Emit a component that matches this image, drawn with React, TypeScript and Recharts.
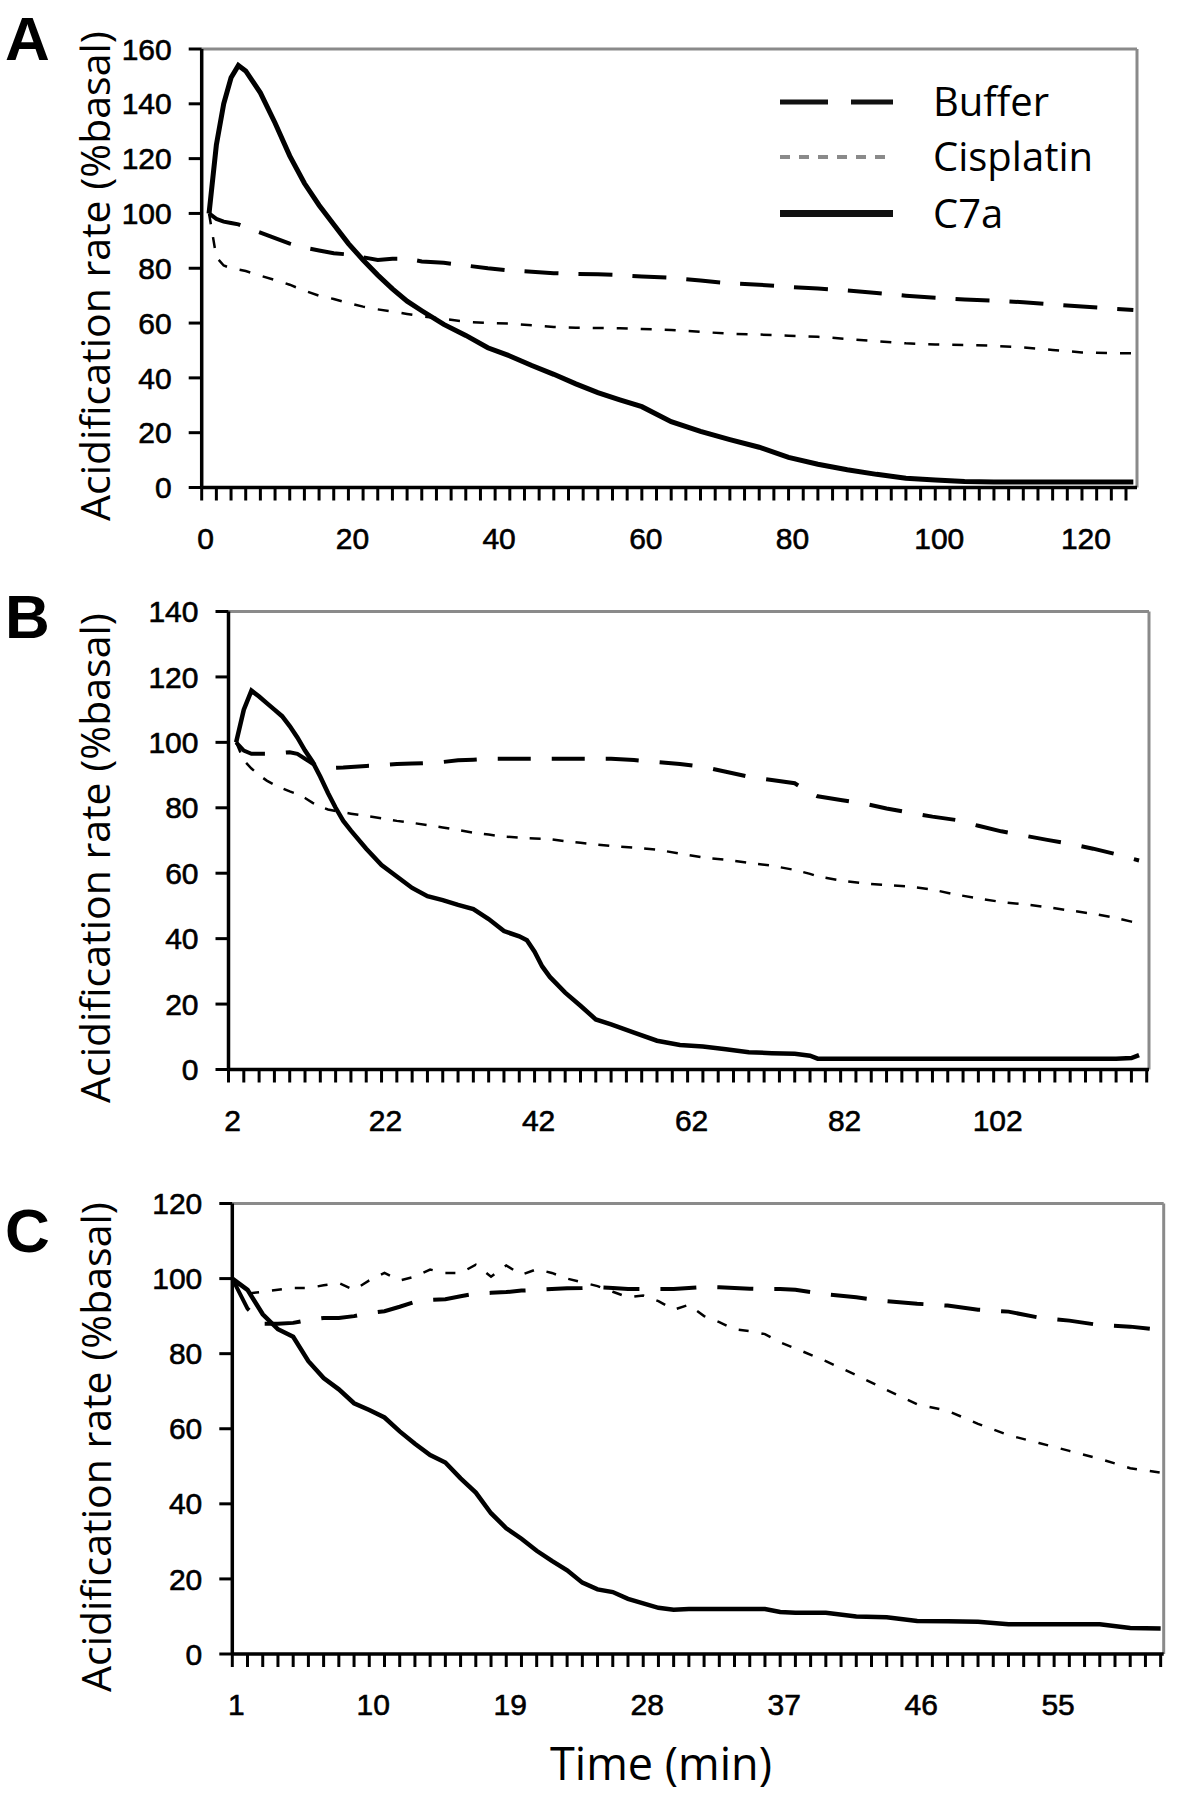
import { Label, Legend, Line, LineChart, ReferenceLine, XAxis, YAxis } from "recharts";

// ---- panel A (0-127 min) ----
const timeA = [1, 2, 3, 4, 5, 6, 8, 10, 12, 14, 16, 18, 20, 22, 24, 26, 28, 30, 33, 36, 39, 42, 45, 48, 51, 54, 57, 60, 64, 68, 72, 76, 80, 84, 88, 92, 96, 100, 104, 108, 112, 116, 120, 124, 127];
const bufferA = [100, 98, 97, 96.5, 96, 95, 93, 91, 89, 87.5, 86.5, 85.5, 85, 84, 83, 83.5, 83.5, 82.5, 82, 81, 80, 79.2, 78.7, 78.2, 77.9, 77.8, 77.5, 77, 76.5, 75.5, 74.5, 74, 73.2, 72.6, 71.9, 71, 70, 69.2, 68.6, 68.2, 67.6, 66.8, 66, 65.3, 64.8];
const cisplatinA = [100, 84, 81, 80, 79.5, 79, 77.3, 75.7, 74, 71.8, 70, 68.8, 67.3, 66, 65, 64.2, 63.3, 62.5, 61.5, 60.5, 60, 59.8, 59.2, 58.6, 58.3, 58.2, 58.1, 57.8, 57.5, 56.8, 56.1, 55.8, 55.4, 55, 54.2, 53.4, 52.6, 52.2, 52, 51.7, 51.1, 50.2, 49.3, 49, 49];
const c7aA = [100, 125, 140, 149.5, 154, 152, 144, 133, 121, 111, 103, 96, 89, 83, 77.5, 72.5, 68, 64.5, 59.5, 55.5, 51, 48, 44.5, 41.3, 37.8, 34.6, 32, 29.5, 24, 20.5, 17.5, 14.7, 11, 8.5, 6.5, 4.8, 3.4, 2.7, 2.2, 2, 2, 2, 2, 2, 2];

// ---- panel B (2-122 min) ----
const timeB = [3, 4, 5, 6, 7, 8, 9, 10, 11, 12, 13, 14, 15, 16, 17, 18, 20, 22, 24, 26, 28, 30, 32, 34, 36, 38, 40, 41, 42, 43, 44, 46, 48, 50, 52, 55, 58, 61, 64, 67, 70, 73, 76, 78, 79, 82, 85, 88, 91, 94, 97, 100, 103, 106, 109, 112, 115, 118, 120, 121];
const bufferB = [100, 97.5, 96.5, 96.5, 96.5, 96.5, 96.8, 97, 96.5, 95, 93.5, 92.5, 92.2, 92.2, 92.3, 92.5, 92.8, 93, 93.4, 93.5, 93.7, 94, 94.5, 94.7, 95, 95, 95, 95, 95, 95, 95, 95, 95, 95, 95, 94.6, 94, 93.4, 92.5, 91, 89.5, 88.5, 87.5, 84.5, 83.5, 82.4, 81.3, 79.8, 78.5, 77.3, 76.3, 74.5, 72.8, 71.5, 70.2, 69, 67.5, 65.8, 64.5, 63.9];
const cisplatinB = [100, 94.5, 92, 90, 88.3, 87, 86, 85, 84.2, 83, 81.5, 80.3, 79.5, 79, 78.6, 78.2, 77.5, 76.8, 76, 75.4, 74.7, 74, 73.2, 72.4, 71.8, 71.2, 70.9, 70.7, 70.6, 70.5, 70.4, 69.8, 69.3, 68.8, 68.3, 67.8, 67.2, 66, 64.8, 64.1, 63.2, 62.3, 61, 59.8, 59, 57.8, 56.9, 56.4, 55.9, 55, 53.5, 52.3, 51.2, 50.5, 49.6, 48.6, 47.6, 46.3, 45.2, 44.8];
const c7aB = [100, 110, 115.8, 114, 112, 110, 108, 105, 101.5, 97.5, 94, 89.5, 84.5, 80, 76, 73, 67.5, 62.5, 59, 55.5, 53, 51.8, 50.3, 49, 46, 42.3, 40.7, 39.5, 36, 31.5, 28.3, 23.5, 19.5, 15.3, 13.8, 11.3, 8.8, 7.5, 7, 6.2, 5.3, 5, 4.8, 4.2, 3.3, 3.3, 3.3, 3.3, 3.3, 3.3, 3.3, 3.3, 3.3, 3.3, 3.3, 3.3, 3.3, 3.3, 3.5, 4.4];

// ---- panel C (1-62 min) ----
const timeC = [1, 2, 3, 4, 5, 6, 7, 8, 9, 10, 11, 12, 13, 14, 15, 16, 17, 18, 19, 20, 21, 22, 23, 24, 25, 26, 27, 28, 29, 30, 31, 32, 33, 34, 35, 36, 37, 38, 40, 42, 44, 46, 48, 50, 52, 54, 56, 58, 60, 62];
const bufferC = [100, 92, 88, 88, 88.2, 89, 89.5, 89.5, 90, 90.8, 91.3, 92.5, 93.8, 94.3, 94.5, 95.3, 96, 96.2, 96.4, 96.8, 97, 97.2, 97.4, 97.5, 97.7, 97.5, 97.2, 97.2, 97.2, 97.2, 97.5, 97.8, 97.7, 97.5, 97.3, 97.2, 97.2, 97, 95.8, 95, 94, 93.3, 92.8, 91.7, 91.2, 89.6, 88.8, 87.6, 87.2, 86.3];
const cisplatinC = [100, 96, 96.5, 97, 97.5, 97.5, 98.2, 98.8, 97, 99.5, 101.5, 99.5, 100.5, 102.4, 101.5, 101.5, 103.7, 100.5, 103.5, 101, 102.5, 101.5, 100, 99, 98, 96.5, 95, 95.5, 94, 91.7, 93, 90, 88.4, 86.5, 86, 85.2, 83, 81.4, 78, 74.3, 70.3, 66.5, 64.8, 61.3, 58.3, 56.2, 54.1, 52, 49.5, 48.3];
const c7aC = [100, 97, 90.5, 86.5, 84.5, 78, 73.5, 70.5, 66.8, 65, 63, 59.3, 56, 53, 51, 46.8, 43, 37.5, 33.5, 30.7, 27.5, 24.8, 22.3, 19, 17.2, 16.5, 14.7, 13.5, 12.3, 11.8, 12, 12, 12, 12, 12, 12, 11.2, 11, 11, 10, 9.8, 8.8, 8.7, 8.6, 7.9, 7.9, 7.9, 7.9, 6.9, 6.8];

// ---- axes ----
const yTicksA = [0, 20, 40, 60, 80, 100, 120, 140, 160];
const yTicksB = [0, 20, 40, 60, 80, 100, 120, 140];
const yTicksC = [0, 20, 40, 60, 80, 100, 120];
const xLabelsA = [0, 20, 40, 60, 80, 100, 120];
const xLabelsB = [2, 22, 42, 62, 82, 102];
const xLabelsC = [1, 10, 19, 28, 37, 46, 55];

const seriesNames = ["Buffer", "Cisplatin", "C7a"];
const panelLetters = ["A", "B", "C"];
const yTitle = "Acidification rate (%basal)";
const xTitle = "Time (min)";

const SANS = "'Open Sans', 'Noto Sans', sans-serif";
const TICK_FONT = "'Liberation Sans', Arial, sans-serif";
const TITLE_SIZE = 41;
const BORDER = "#8a8a8a";

const range = (from: number, to: number, step: number) => {
  const out: number[] = [];
  for (let v = from; v <= to + 1e-9; v += step) out.push(v);
  return out;
};

const panels = [
  {
    letter: panelLetters[0], top: 0, height: 580, yAxisWidth: 201.7,
    margin: { top: 49, right: 63, bottom: 32.5, left: 0 },
    time: timeA, buffer: bufferA, cisplatin: cisplatinA, c7a: c7aA,
    xDomain: [0, 127.5], minorTicks: range(0, 126, 2), xLabels: xLabelsA,
    yMax: 160, yTicks: yTicksA, titleX: 95, titleY: 276, letterY: 60,
    widths: [4, 2.5, 5], dashes: ["34 20", "11 13"], legend: true,
  },
  {
    letter: panelLetters[1], top: 580, height: 600, yAxisWidth: 228.5,
    margin: { top: 31.5, right: 51, bottom: 50.5, left: 0 },
    time: timeB, buffer: bufferB, cisplatin: cisplatinB, c7a: c7aB,
    xDomain: [2, 122.3], minorTicks: range(2, 122, 2), xLabels: xLabelsB,
    yMax: 140, yTicks: yTicksB, titleX: 95, titleY: 278, letterY: 638,
    widths: [4, 2.5, 4.5], dashes: ["33 21", "11 12"], legend: false,
  },
  {
    letter: panelLetters[2], top: 1180, height: 640, yAxisWidth: 232.3,
    margin: { top: 23.5, right: 36.3, bottom: 106, left: 0 },
    time: timeC, buffer: bufferC, cisplatin: cisplatinC, c7a: c7aC,
    xDomain: [1, 62.2], minorTicks: range(1, 62, 1), xLabels: xLabelsC,
    yMax: 120, yTicks: yTicksC, titleX: 96, titleY: 267, letterY: 1252,
    widths: [4, 2.5, 4.5], dashes: ["36 21", "10 13"], legend: false, xTitle: true,
  },
];

const legendRows = [36, 91, 147.5];

const LegendBox = () => (
  <svg width={360} height={190}>
    <line x1={10} x2={123} y1={legendRows[0]} y2={legendRows[0]} stroke="#111" strokeWidth={5} strokeDasharray="48 23" />
    <line x1={10} x2={123} y1={legendRows[1]} y2={legendRows[1]} stroke="#8a8a8a" strokeWidth={4} strokeDasharray="10 9" />
    <line x1={10} x2={123} y1={legendRows[2]} y2={legendRows[2]} stroke="#111" strokeWidth={7} />
    {seriesNames.map((name, i) => (
      <text key={name} x={163} y={legendRows[i] + 14} fontFamily={SANS} fontSize={40} fill="#000">
        {name}
      </text>
    ))}
  </svg>
);

type PanelCfg = (typeof panels)[number];

function Panel({ cfg }: { cfg: PanelCfg }) {
  const data = cfg.time.map((t, i) => ({
    t,
    buffer: cfg.buffer[i],
    cisplatin: cfg.cisplatin[i],
    c7a: cfg.c7a[i],
  }));

  const renderXTick = (props: any) => {
    const { x, y, payload } = props;
    if (!cfg.xLabels.includes(payload.value)) return <g />;
    return (
      <text
        x={x + 4}
        y={y + 46}
        textAnchor="middle"
        fontFamily={TICK_FONT}
        fontSize={30}
        fill="#000"
        stroke="#000"
        strokeWidth={0.6}
      >
        {payload.value}
      </text>
    );
  };

  return (
    <div style={{ position: "absolute", left: 0, top: cfg.top }}>
      <LineChart width={1200} height={cfg.height} data={data} margin={cfg.margin}>
        <XAxis
          type="number"
          dataKey="t"
          domain={cfg.xDomain}
          ticks={cfg.minorTicks}
          interval={0}
          height={60}
          tickSize={13}
          tick={renderXTick}
          axisLine={{ stroke: "#000", strokeWidth: 3.5 }}
          tickLine={{ stroke: "#000", strokeWidth: 3 }}
          label={
            cfg.xTitle
              ? {
                  content: () => (
                    <text x={661} y={600} textAnchor="middle" fontFamily={SANS} fontSize={45} fill="#000">
                      {xTitle}
                    </text>
                  ),
                }
              : undefined
          }
        />
        <YAxis
          type="number"
          domain={[0, cfg.yMax]}
          ticks={cfg.yTicks}
          interval={0}
          width={cfg.yAxisWidth}
          tickSize={13}
          tickMargin={17}
          tick={{ fill: "#000", stroke: "#000", strokeWidth: 0.6, fontSize: 30, fontFamily: TICK_FONT }}
          axisLine={{ stroke: "#000", strokeWidth: 3.5 }}
          tickLine={{ stroke: "#000", strokeWidth: 3 }}
        >
          <Label
            content={() => (
              <text
                transform={`translate(${cfg.titleX},${cfg.titleY}) rotate(-90)`}
                x={0}
                y={TITLE_SIZE * 0.357}
                textAnchor="middle"
                fontFamily={SANS}
                fontSize={TITLE_SIZE}
                fill="#000"
              >
                {yTitle}
              </text>
            )}
          />
        </YAxis>
        <ReferenceLine y={cfg.yMax} stroke={BORDER} strokeWidth={3} />
        <ReferenceLine x={cfg.xDomain[1]} stroke={BORDER} strokeWidth={3} />
        <Line
          type="linear"
          dataKey="buffer"
          name={seriesNames[0]}
          stroke="#000"
          strokeWidth={cfg.widths[0]}
          strokeDasharray={cfg.dashes[0]}
          dot={false}
          isAnimationActive={false}
        />
        <Line
          type="linear"
          dataKey="cisplatin"
          name={seriesNames[1]}
          stroke="#000"
          strokeWidth={cfg.widths[1]}
          strokeDasharray={cfg.dashes[1]}
          dot={false}
          isAnimationActive={false}
        />
        <Line
          type="linear"
          dataKey="c7a"
          name={seriesNames[2]}
          stroke="#000"
          strokeWidth={cfg.widths[2]}
          dot={false}
          isAnimationActive={false}
        />
        {cfg.legend && (
          <Legend
            layout="horizontal"
            verticalAlign="middle"
            align="center"
            wrapperStyle={{ left: 770, top: 66, width: 360, height: 190 }}
            content={() => <LegendBox />}
          />
        )}
      </LineChart>
    </div>
  );
}

export default function App() {
  return (
    <div style={{ position: "absolute", left: 0, top: 0, width: 1200, height: 1820, background: "#fff" }}>
      {panels.map((cfg) => (
        <Panel key={cfg.letter} cfg={cfg} />
      ))}
      <svg width={1200} height={1820} style={{ position: "absolute", left: 0, top: 0, pointerEvents: "none" }}>
        {panels.map((cfg) => (
          <text
            key={cfg.letter}
            x={5}
            y={cfg.letterY}
            fontFamily="'Liberation Sans', Arial, sans-serif"
            fontWeight={700}
            fontSize={62}
            fill="#000"
          >
            {cfg.letter}
          </text>
        ))}
      </svg>
    </div>
  );
}
